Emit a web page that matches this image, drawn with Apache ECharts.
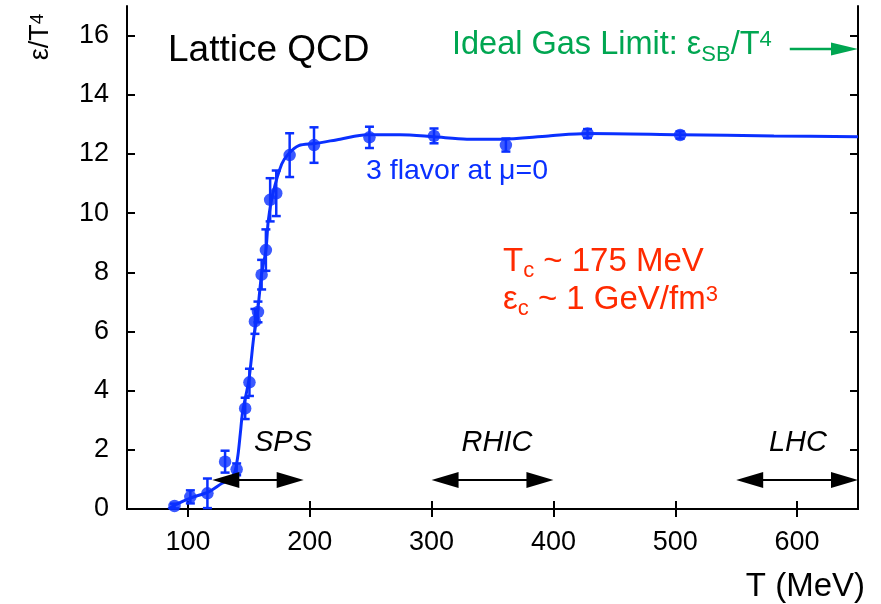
<!DOCTYPE html>
<html>
<head>
<meta charset="utf-8">
<script src="https://cdn.jsdelivr.net/npm/echarts@6/dist/echarts.min.js"></script>
<style>html,body{margin:0;padding:0;background:#fff}#c{width:881px;height:604px}</style>
</head>
<body>
<div id="c"></div>
<script>
// Lattice points (T in MeV, eps/T^4, error)
const pointT   = [89, 102, 116, 130.5, 140, 147, 150.5, 155, 157.5, 160.5, 164, 167.5, 172.5, 183.5, 203.5, 249, 302, 361, 428, 504];
const pointY   = [0.1, 0.41, 0.53, 1.6, 1.34, 3.4, 4.28, 6.34, 6.66, 7.92, 8.75, 10.45, 10.67, 11.96, 12.3, 12.56, 12.61, 12.3, 12.69, 12.64];
const pointErr = [0.08, 0.22, 0.5, 0.37, 0.2, 0.36, 0.46, 0.42, 0.35, 0.5, 0.7, 0.73, 0.77, 0.74, 0.6, 0.36, 0.25, 0.22, 0.15, 0.12];
// Fitted curve
const curveT = [84, 90, 102, 117, 128, 135, 138.5, 141, 143, 145, 150, 154, 157, 160.5, 164, 166, 170, 177, 182.5, 191, 204, 225, 247, 274, 302, 329, 357, 396, 428, 504, 581, 650];
const curveY = [0, 0.15, 0.37, 0.58, 0.87, 1.02, 1.25, 1.8, 2.55, 3.3, 4.35, 5.8, 6.6, 7.95, 8.74, 9.75, 10.7, 11.66, 12.0, 12.28, 12.35, 12.5, 12.65, 12.65, 12.58, 12.5, 12.5, 12.61, 12.69, 12.65, 12.61, 12.58];
// Accelerator ranges (double arrows)
const rangeNames = ['SPS', 'RHIC', 'LHC'];
const rangeFrom  = [120, 300, 550];
const rangeTo    = [195, 400, 650];
const rangeY     = 0.98;
// Ideal gas limit arrow
const sbArrowT = [594, 650];
const sbArrowY = 15.55;
// Ticks
const xTicks = [100, 200, 300, 400, 500, 600];
const yTicks = [0, 2, 4, 6, 8, 10, 12, 14, 16];

const BLUE = '#0a30ff', RED = '#ff2a00', GREEN = '#00a651';
const FAMILY = 'Liberation Sans';
const FF = 'Liberation Sans, Arial, sans-serif';

// text with sub/superscripts built from pieces: [text, fontSize, baselineShift]
const mctx = document.createElement('canvas').getContext('2d');
function measure(t, size, style) {
  mctx.font = (style || 'normal') + ' ' + size + 'px "' + FAMILY + '"';
  return mctx.measureText(t).width;
}
function pieceText(pieces, color, startX, baseY) {
  const children = [];
  let x = startX;
  pieces.forEach(p => {
    const [t, size, dy] = p;
    children.push({type: 'text', x: x, y: baseY + dy - 0.35 * size,
      style: {text: t, fill: color, fontSize: size, fontFamily: FF, align: 'left', verticalAlign: 'middle'}});
    x += measure(t, size);
  });
  return {children, width: x - startX};
}
function scriptText(pieces, color, x, baseline) {
  return {type: 'group', children: pieceText(pieces, color, x, baseline).children};
}

const chart = echarts.init(document.getElementById('c'), null, {renderer: 'canvas'});

const axisCommon = {
  type: 'value',
  axisLine: {show: true, lineStyle: {color: '#000', width: 2}},
  axisTick: {show: true, inside: true, length: 8, lineStyle: {color: '#000', width: 2}},
  splitLine: {show: false}
};

function arrowItem(params, api, color, headLen, headW, lw) {
  const a = api.coord([api.value(0), api.value(2)]);
  const b = api.coord([api.value(1), api.value(2)]);
  const both = api.value(3) === 1;
  const children = [];
  const x0 = both ? a[0] + headLen - 2 : a[0];
  const x1 = b[0] - headLen + 2;
  children.push({type: 'line', shape: {x1: x0, y1: a[1], x2: x1, y2: b[1]}, style: {stroke: color, lineWidth: lw}});
  children.push({type: 'polygon', shape: {points: [[b[0], b[1]], [b[0] - headLen, b[1] - headW / 2], [b[0] - headLen, b[1] + headW / 2]]}, style: {fill: color}});
  if (both) {
    children.push({type: 'polygon', shape: {points: [[a[0], a[1]], [a[0] + headLen, a[1] - headW / 2], [a[0] + headLen, a[1] + headW / 2]]}, style: {fill: color}});
  }
  return {type: 'group', children};
}

// rotated y-axis name
const yNamePieces = [['ε/T', 27, 0], ['4', 19, -6]];
const yName = pieceText(yNamePieces, '#000', 0, 0);
yName.children.forEach(c => { c.x -= yName.width / 2; c.y += 9; });

const option = {
  animation: false,
  backgroundColor: '#fff',
  grid: {left: 127, right: 23, top: 6, bottom: 95, containLabel: false},
  xAxis: [
    Object.assign({}, axisCommon, {
      position: 'bottom', min: 50, max: 650,
      axisTick: Object.assign({}, axisCommon.axisTick, {customValues: xTicks}),
      axisLabel: {show: true, customValues: xTicks, color: '#000', fontSize: 27, fontFamily: FF, margin: 20}
    }),
    Object.assign({}, axisCommon, {
      position: 'top', min: 50, max: 650,
      axisTick: Object.assign({}, axisCommon.axisTick, {customValues: xTicks}),
      axisLabel: {show: false}
    })
  ],
  yAxis: [
    Object.assign({}, axisCommon, {
      position: 'left', min: 0, max: 17,
      axisTick: Object.assign({}, axisCommon.axisTick, {customValues: yTicks}),
      axisLabel: {show: true, customValues: yTicks, color: '#000', fontSize: 27, fontFamily: FF, margin: 18}
    }),
    Object.assign({}, axisCommon, {
      position: 'right', min: 0, max: 17,
      axisTick: Object.assign({}, axisCommon.axisTick, {customValues: yTicks}),
      axisLabel: {show: false}
    })
  ],
  series: [
    {
      type: 'line', data: curveT.map((t, i) => [t, curveY[i]]),
      smooth: 0.3, showSymbol: false, symbol: 'none',
      lineStyle: {color: BLUE, width: 3}, z: 3
    },
    {
      type: 'custom', z: 4,
      data: pointT.map((t, i) => [t, pointY[i] - pointErr[i], pointY[i] + pointErr[i]]),
      renderItem: function (params, api) {
        const lo = api.coord([api.value(0), api.value(1)]);
        const hi = api.coord([api.value(0), api.value(2)]);
        const w = 4.5;
        const st = {stroke: BLUE, lineWidth: 2.5};
        return {type: 'group', children: [
          {type: 'line', shape: {x1: lo[0], y1: lo[1], x2: hi[0], y2: hi[1]}, style: st},
          {type: 'line', shape: {x1: lo[0] - w, y1: lo[1], x2: lo[0] + w, y2: lo[1]}, style: st},
          {type: 'line', shape: {x1: hi[0] - w, y1: hi[1], x2: hi[0] + w, y2: hi[1]}, style: st}
        ]};
      }
    },
    {
      type: 'scatter', data: pointT.map((t, i) => [t, pointY[i]]),
      symbol: 'circle', symbolSize: 12.5, itemStyle: {color: BLUE}, z: 5
    },
    {
      type: 'custom', z: 6, clip: false,
      data: rangeFrom.map((f, i) => [f, rangeTo[i], rangeY, 1]),
      renderItem: (p, api) => arrowItem(p, api, '#000', 27, 16, 2.2)
    },
    {
      type: 'custom', z: 6, clip: false,
      data: [[sbArrowT[0], sbArrowT[1], sbArrowY, 0]],
      renderItem: (p, api) => arrowItem(p, api, GREEN, 27, 13, 2.5)
    }
  ],
  graphic: [
    {type: 'text', x: 168, y: 51, style: {text: 'Lattice QCD', fill: '#000', fontSize: 37, fontFamily: FF, align: 'left', verticalAlign: 'middle'}},
    scriptText([['Ideal Gas Limit: ε', 32.5, 0], ['SB', 22, 7], ['/T', 32.5, 0], ['4', 22, -8]], GREEN, 452, 56),
    {type: 'text', x: 366, y: 171, style: {text: '3 flavor at μ=0', fill: BLUE, fontSize: 28.5, fontFamily: FF, align: 'left', verticalAlign: 'middle'}},
    scriptText([['T', 33, 0], ['c', 22, 5], [' ~ 175 MeV', 33, 0]], RED, 503, 273.5),
    scriptText([['ε', 33, 0], ['c', 22, 5], [' ~ 1 GeV/fm', 33, 0], ['3', 22, -9]], RED, 503, 311.5),
    {type: 'text', x: 283, y: 443, style: {text: rangeNames[0], fill: '#000', fontSize: 29, fontStyle: 'italic', fontFamily: FF, align: 'center', verticalAlign: 'middle'}},
    {type: 'text', x: 497, y: 443, style: {text: rangeNames[1], fill: '#000', fontSize: 29, fontStyle: 'italic', fontFamily: FF, align: 'center', verticalAlign: 'middle'}},
    {type: 'text', x: 798, y: 443, style: {text: rangeNames[2], fill: '#000', fontSize: 29, fontStyle: 'italic', fontFamily: FF, align: 'center', verticalAlign: 'middle'}},
    {type: 'text', x: 865, y: 587, style: {text: 'T (MeV)', fill: '#000', fontSize: 33, fontFamily: FF, align: 'right', verticalAlign: 'middle'}},
    {type: 'group', x: 41, y: 37, rotation: Math.PI / 2, children: yName.children}
  ]
};
chart.setOption(option);
</script>
</body>
</html>
